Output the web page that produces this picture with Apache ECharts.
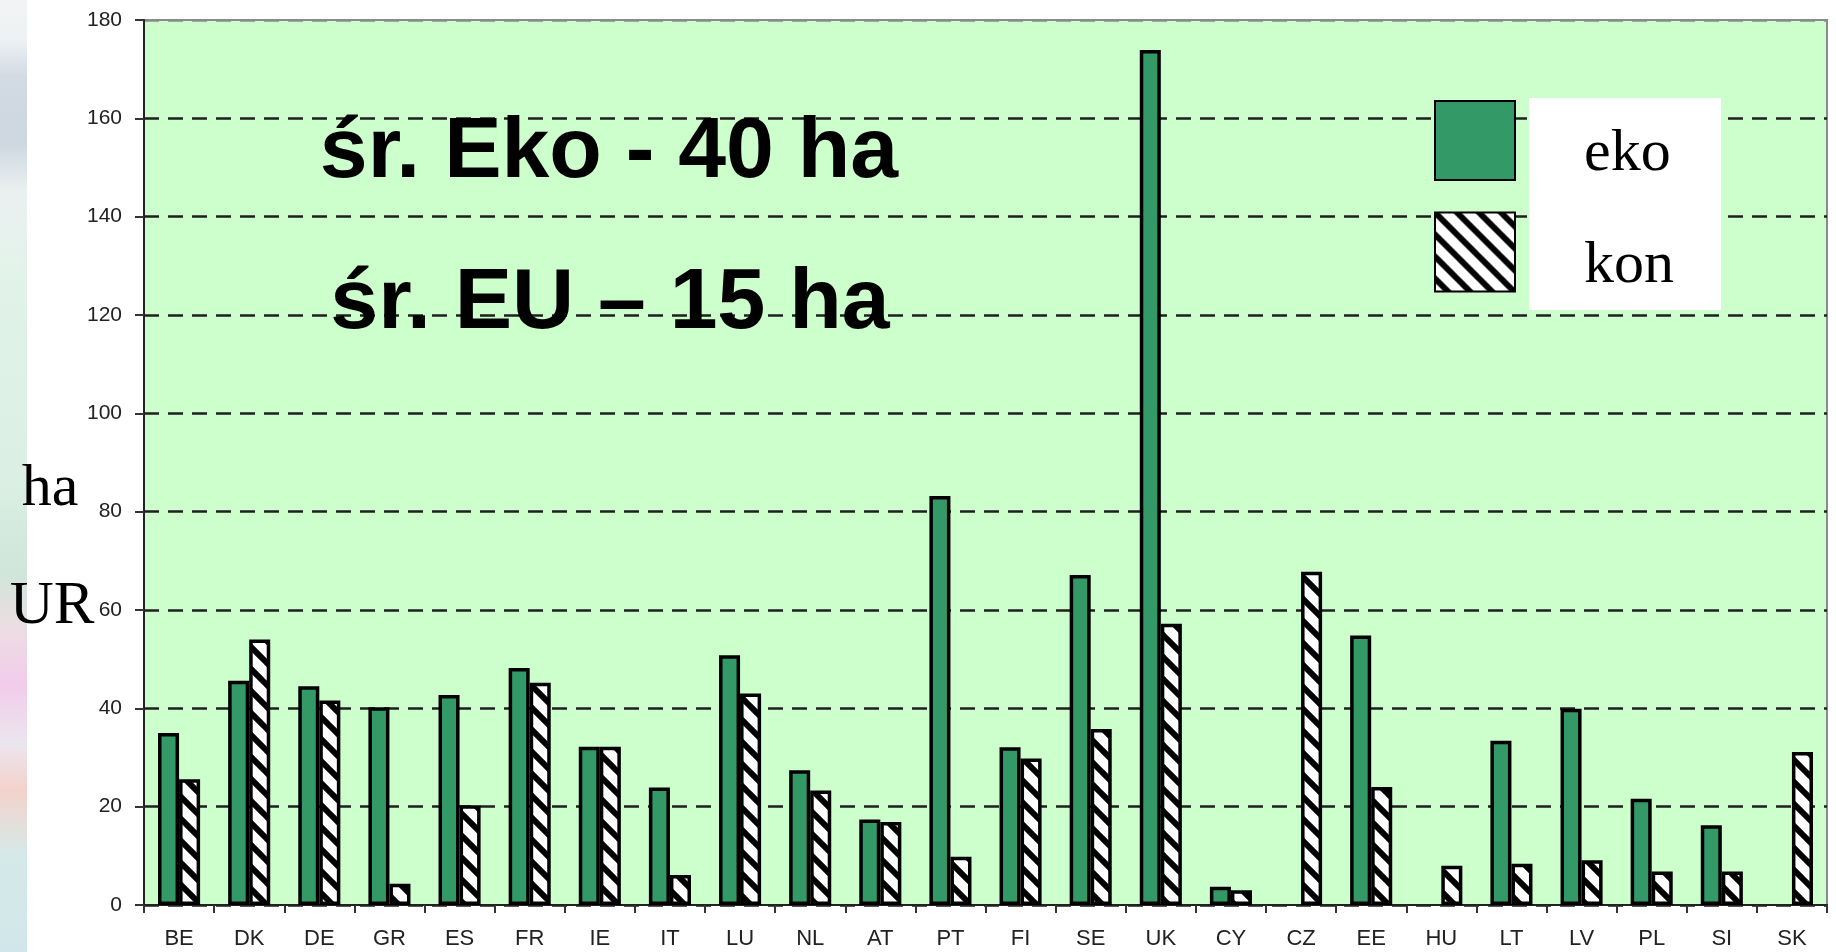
<!DOCTYPE html>
<html><head><meta charset="utf-8">
<script src="https://cdn.jsdelivr.net/npm/echarts@6/dist/echarts.min.js"></script>
<style>html,body{margin:0;padding:0;background:#fff}#c{width:1836px;height:952px}</style>
</head><body><div id="c"></div>
<script>
const categories = ['BE','DK','DE','GR','ES','FR','IE','IT','LU','NL','AT','PT','FI','SE','UK','CY','CZ','EE','HU','LT','LV','PL','SI','SK'];
const ekoValues = [35, 45.6, 44.5, 40.2, 42.7, 48.2, 32.2, 23.9, 50.8, 27.4, 17.4, 83.2, 32.1, 67.1, 173.9, 3.7, null, 54.8, null, 33.4, 39.9, 21.6, 16.2, null];
const konValues = [25.6, 54, 41.6, 4.3, 20.3, 45.2, 32.2, 6.1, 43, 23.3, 16.9, 9.8, 29.8, 35.8, 57.2, 3.0, 67.8, 24, 8, 8.4, 9.1, 6.8, 6.8, 31.1];
const seriesNames = ['eko', 'kon'];
const yMin = 0, yMax = 180, yInterval = 20;
const titleLines = ['śr. Eko - 40 ha', 'śr. EU – 15 ha'];
const yUnitLines = ['ha', 'UR'];

function hatchPattern() {
  const s = 22;
  const c = document.createElement('canvas');
  c.width = s; c.height = s;
  const g = c.getContext('2d');
  g.fillStyle = '#ffffff';
  g.fillRect(0, 0, s, s);
  g.strokeStyle = '#000000';
  g.lineWidth = 6;
  g.beginPath();
  for (let k = -1; k <= 1; k++) {
    g.moveTo(-2, k * s - 2);
    g.lineTo(s + 2, s + k * s + 2);
  }
  g.stroke();
  return c;
}

const chart = echarts.init(document.getElementById('c'), null, {renderer: 'canvas'});
const gridColor = '#1f1f1f';
const splitColors = [];
for (let v = yMin; v <= yMax; v += yInterval) splitColors.push(v === yMax ? '#8a8a8a' : gridColor);

const option = {
  backgroundColor: '#ffffff',
  animation: false,
  grid: {
    left: 144, right: 9, top: 20, bottom: 47,
    show: true, backgroundColor: '#CCFFCC', borderColor: '#8a8a8a', borderWidth: 2
  },
  legend: {
    orient: 'vertical', left: 1429, top: 95,
    itemWidth: 80, itemHeight: 79, itemGap: 27,
    icon: 'rect',
    data: seriesNames,
    formatter: name => '{s|}\n{t|' + name + '}',
    textStyle: {
      fontFamily: '"Liberation Serif", "DejaVu Serif", serif', fontSize: 60, color: '#000', padding: [0, 0, 0, 64],
      rich: {
        s: {lineHeight: 28, fontSize: 10},
        t: {lineHeight: 64, fontSize: 60, fontFamily: '"Liberation Serif", "DejaVu Serif", serif', color: '#000'}
      }
    },
    selectedMode: false,
    z: 10
  },
  xAxis: {
    type: 'category', data: categories,
    axisLine: {show: true, lineStyle: {color: '#222', width: 2}},
    axisTick: {show: true, alignWithLabel: false, length: 8, lineStyle: {color: '#333', width: 2}},
    axisLabel: {color: '#222', fontSize: 22, fontFamily: '"Liberation Sans", Arial, sans-serif', margin: 23},
    splitLine: {show: false}
  },
  yAxis: {
    type: 'value', min: yMin, max: yMax, interval: yInterval,
    axisLine: {show: true, lineStyle: {color: '#222', width: 2}},
    axisTick: {show: true, length: 9, lineStyle: {color: '#333', width: 2}},
    axisLabel: {color: '#222', fontSize: 21, fontFamily: '"Liberation Sans", Arial, sans-serif', margin: 22},
    splitLine: {show: true, lineStyle: {color: splitColors, width: 2.5, type: [15, 9]}}
  },
  series: [
    {
      name: seriesNames[0], type: 'bar', data: ekoValues,
      barWidth: '30%', barGap: '0%', barCategoryGap: '40%',
      itemStyle: {color: '#339966', borderColor: '#000', borderWidth: 3.5}
    },
    {
      name: seriesNames[1], type: 'bar', data: konValues,
      barWidth: '30%', barGap: '0%', barCategoryGap: '40%',
      itemStyle: {color: {image: hatchPattern(), repeat: 'repeat'}, borderColor: '#000', borderWidth: 3.5}
    }
  ],
  graphic: [
    {
      type: 'rect', left: 0, top: 0, z: 1, silent: true,
      shape: {width: 27, height: 952},
      style: {
        fill: new echarts.graphic.LinearGradient(0, 0, 0, 1, [
          {offset: 0, color: '#f3f3f3'},
          {offset: 0.04, color: '#eef2f4'},
          {offset: 0.08, color: '#d2dae3'},
          {offset: 0.15, color: '#cdd7e0'},
          {offset: 0.2, color: '#eaf0f0'},
          {offset: 0.3, color: '#e1f3e9'},
          {offset: 0.5, color: '#dcefe4'},
          {offset: 0.6, color: '#cfe6da'},
          {offset: 0.66, color: '#ecdde2'},
          {offset: 0.72, color: '#f2cceb'},
          {offset: 0.78, color: '#ebe5ee'},
          {offset: 0.83, color: '#f4d2cc'},
          {offset: 0.9, color: '#d4eae8'},
          {offset: 1, color: '#d0e6ea'}
        ])
      }
    },
    {
      type: 'rect', left: 1529, top: 98, z: 5, silent: true,
      shape: {width: 192, height: 212},
      style: {fill: '#ffffff'}
    },
    {
      type: 'text', z: 6, silent: true, x: 609, y: 153,
      style: {text: titleLines[0], font: 'bold 86px "Liberation Sans", Arial, sans-serif', fill: '#000',
        textAlign: 'center', textVerticalAlign: 'middle', align: 'center', verticalAlign: 'middle'}
    },
    {
      type: 'text', z: 6, silent: true, x: 610, y: 304,
      style: {text: titleLines[1], font: 'bold 86px "Liberation Sans", Arial, sans-serif', fill: '#000',
        textAlign: 'center', textVerticalAlign: 'middle', align: 'center', verticalAlign: 'middle'}
    },
    {
      type: 'text', z: 6, silent: true, x: 50, y: 489,
      style: {text: yUnitLines[0], font: '60px "Liberation Serif", "DejaVu Serif", serif', fill: '#000',
        textAlign: 'center', textVerticalAlign: 'middle', align: 'center', verticalAlign: 'middle'}
    },
    {
      type: 'text', z: 6, silent: true, x: 52, y: 607,
      style: {text: yUnitLines[1], font: '61px "Liberation Serif", "DejaVu Serif", serif', fill: '#000',
        textAlign: 'center', textVerticalAlign: 'middle', align: 'center', verticalAlign: 'middle'}
    }
  ]
};
chart.setOption(option);
</script>
</body></html>
